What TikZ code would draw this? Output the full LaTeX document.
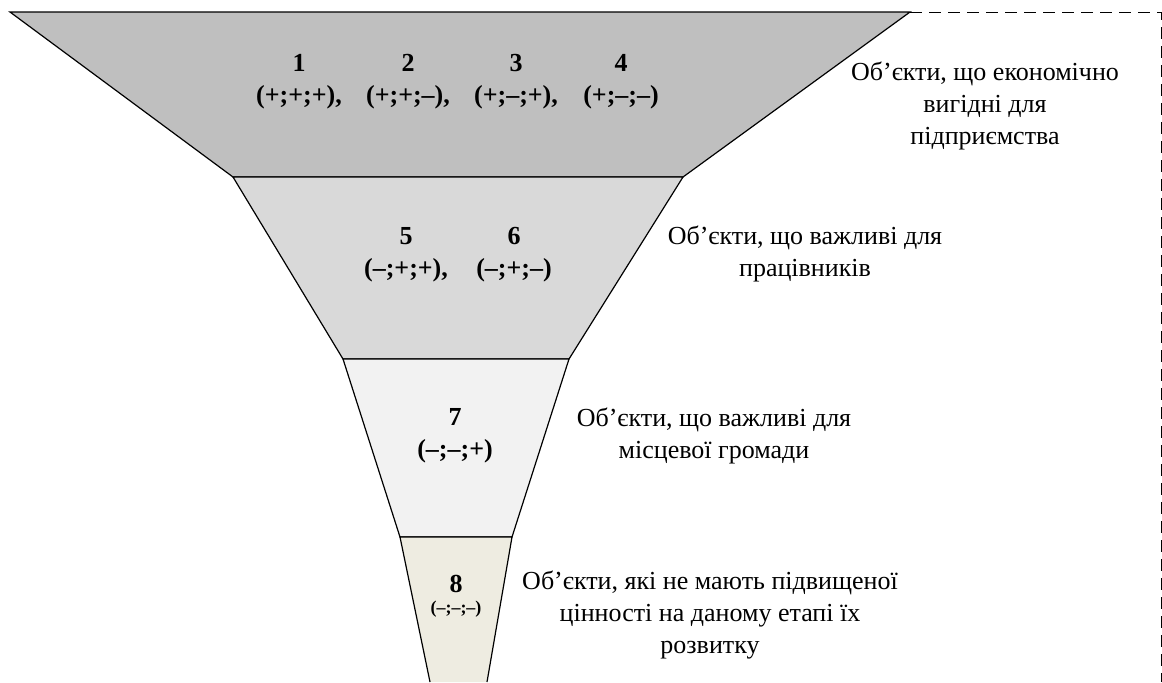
\documentclass[tikz,border=0pt]{standalone}
\usepackage{fontspec}
\setmainfont{Liberation Serif}
\definecolor{bandA}{HTML}{BFBFBF}
\definecolor{bandB}{HTML}{D9D9D9}
\definecolor{bandC}{HTML}{F2F2F2}
\definecolor{bandD}{HTML}{EEECE1}
\tikzset{
  num/.style={font=\fontsize{13}{16}\selectfont\bfseries, align=center, inner sep=0pt},
  lbl/.style={font=\fontsize{13}{16}\selectfont, align=center, inner sep=0pt},
}
\begin{document}
\begin{tikzpicture}[x=.5pt, y=-.5pt, line width=.6pt]
\useasboundingbox (0,0) rectangle (1162,682);

\filldraw[fill=bandA] (10,12) -- (910,12) -- (683,177) -- (233,177) -- cycle;
\filldraw[fill=bandB] (233,177) -- (683,177) -- (569,359) -- (343,359) -- cycle;
\filldraw[fill=bandC] (343,359) -- (569,359) -- (512,537) -- (400,537) -- cycle;
\fill[bandD] (400,537) -- (512,537) -- (487,682) -- (430,682) -- cycle;
\draw (430,682) -- (400,537) -- (512,537) -- (487,682);

\draw[dash pattern=on 6pt off 3.5pt, line width=.5pt] (910,12) -- (1161,12) -- (1161,682);

\node[num] (n1) at (299,82) {1\\(+;+;+),};
\node[num] (n2) at (408,82) {2\\(+;+;–),};
\node[num] (n3) at (516,82) {3\\(+;–;+),};
\node[num] (n4) at (621,82) {4\\(+;–;–)};

\node[num] (n5) at (406,255) {5\\(–;+;+),};
\node[num] (n6) at (514,255) {6\\(–;+;–)};

\node[num] (n7) at (455,436) {7\\(–;–;+)};

\node[num] (n8) at (456,584) {8};
\node[num, font=\fontsize{9}{11}\selectfont\bfseries] (t8) at (456,609) {(–;–;–)};

\node[lbl] (l1) at (985,106) {Об’єкти, що економічно\\вигідні для\\підприємства};
\node[lbl] (l2) at (805,254) {Об’єкти, що важливі для\\працівників};
\node[lbl] (l3) at (714,436) {Об’єкти, що важливі для\\місцевої громади};
\node[lbl] (l4) at (710,615) {Об’єкти, які не мають підвищеної\\цінності на даному етапі їх\\розвитку};
\end{tikzpicture}
\end{document}
